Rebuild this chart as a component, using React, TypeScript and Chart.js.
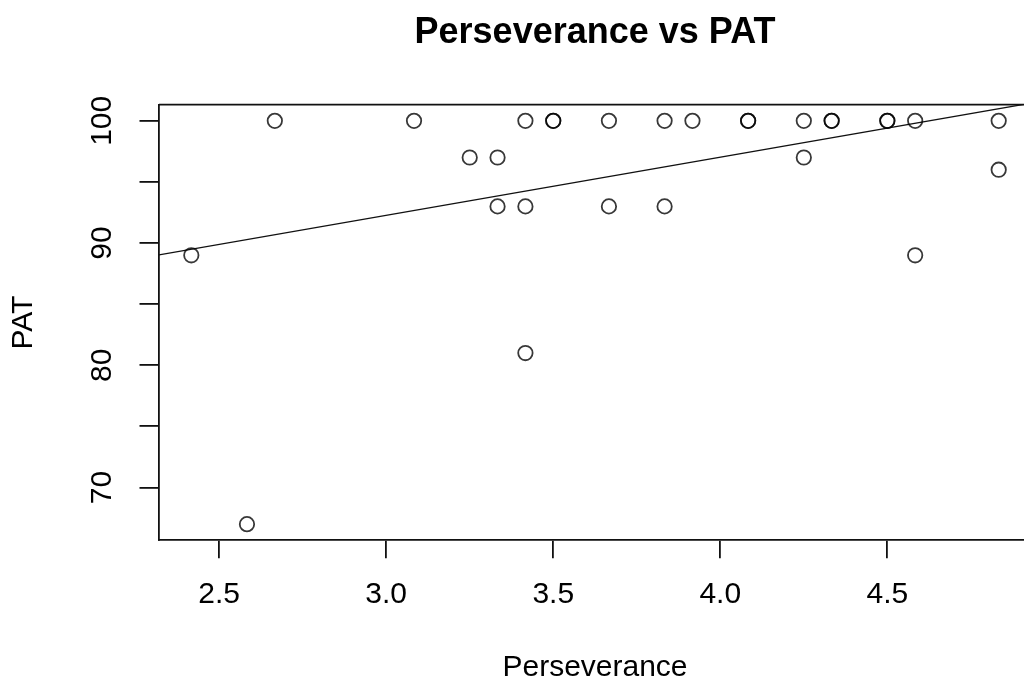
import React, { useEffect, useRef } from 'react';
import { Chart, registerables } from 'chart.js';

Chart.register(...registerables);

// Data
const perseverance = [
  2.4167, 2.5833, 2.6667, 3.0833, 3.25, 3.3333, 3.3333, 3.4167, 3.4167, 3.4167,
  3.5, 3.5, 3.6667, 3.6667, 3.8333, 3.8333, 3.9167, 4.0833, 4.0833, 4.25,
  4.25, 4.3333, 4.3333, 4.5, 4.5, 4.5833, 4.5833, 4.8333, 4.8333,
];
const pat = [
  89, 67, 100, 100, 97, 97, 93, 100, 93, 81,
  100, 100, 100, 93, 100, 93, 100, 100, 100, 100,
  97, 100, 100, 100, 100, 100, 89, 100, 96,
];
// fitted line end points
const fitX = [2.32, 4.93];
const fitY = [89.03, 101.45];

const xTickValues = [2.5, 3.0, 3.5, 4.0, 4.5];
const yLabelValues = [70, 80, 90, 100];

const chartTitle = 'Perseverance vs PAT';
const xTitle = 'Perseverance';
const yTitle = 'PAT';

const FONT = "'Liberation Sans', Arial, sans-serif";
const INK = '#111';

const framePlugin = {
  id: 'frame',
  afterDraw(chart: any) {
    const { ctx, chartArea } = chart;
    ctx.save();
    ctx.strokeStyle = INK;
    ctx.lineWidth = 1.8;
    ctx.beginPath();
    ctx.moveTo(chartArea.left, chartArea.top);
    ctx.lineTo(chartArea.right, chartArea.top);
    ctx.stroke();
    ctx.fillStyle = '#000';
    ctx.font = `bold 36px ${FONT}`;
    ctx.textAlign = 'center';
    ctx.textBaseline = 'middle';
    ctx.fillText(chartTitle, (chartArea.left + chartArea.right) / 2, 33);
    ctx.restore();
  },
};

export default function App() {
  const ref = useRef<HTMLCanvasElement | null>(null);

  useEffect(() => {
    document.body.style.margin = '0';
    const canvas = ref.current;
    if (!canvas) return;
    const points = perseverance.map((x, i) => ({ x, y: pat[i] }));
    const line = fitX.map((x, i) => ({ x, y: fitY[i] }));

    const chart = new Chart(canvas, {
      type: 'scatter',
      data: {
        datasets: [
          {
            type: 'scatter',
            data: points,
            pointRadius: 7.2,
            pointHoverRadius: 7.2,
            borderWidth: 1.8,
            borderColor: 'rgba(0,0,0,0.78)',
            backgroundColor: 'rgba(0,0,0,0)',
          },
          {
            type: 'line',
            data: line,
            borderColor: INK,
            borderWidth: 1.3,
            pointRadius: 0,
            fill: false,
          },
        ],
      },
      options: {
        responsive: false,
        animation: false,
        devicePixelRatio: 1,
        layout: { padding: { top: 104.7, right: 7, left: 0, bottom: 0 } },
        plugins: {
          legend: { display: false },
          tooltip: { enabled: false },
          title: { display: false },
        },
        scales: {
          x: {
            type: 'linear',
            min: 2.32,
            max: 4.93,
            afterFit(scale: any) {
              scale.height = 686 - 540.3;
            },
            afterBuildTicks(scale: any) {
              scale.ticks = xTickValues.map((v) => ({ value: v }));
            },
            ticks: {
              font: { family: FONT, size: 30 },
              color: '#000',
              padding: 18,
              callback: (v: any) => Number(v).toFixed(1),
            },
            grid: {
              drawOnChartArea: false,
              drawTicks: true,
              tickLength: 18,
              color: INK,
              lineWidth: 1.8,
            },
            border: { display: true, color: INK, width: 1.8 },
            title: {
              display: true,
              text: xTitle,
              font: { family: FONT, size: 30 },
              color: '#000',
              padding: { top: 0, bottom: 0 },
            },
          },
          y: {
            type: 'linear',
            min: 65.68,
            max: 101.32,
            afterFit(scale: any) {
              scale.width = 159;
            },
            afterBuildTicks(scale: any) {
              const t: any[] = [];
              for (let v = 70; v <= 100; v += 5) t.push({ value: v });
              scale.ticks = t;
            },
            ticks: {
              font: { family: FONT, size: 30 },
              color: '#000',
              minRotation: 90,
              maxRotation: 90,
              crossAlign: 'center',
              padding: 11.5,
              callback: (v: any) => (yLabelValues.includes(Number(v)) ? String(v) : ''),
            },
            grid: {
              drawOnChartArea: false,
              drawTicks: true,
              tickLength: 19.5,
              color: INK,
              lineWidth: 1.8,
            },
            border: { display: true, color: INK, width: 1.8 },
            title: {
              display: true,
              text: yTitle,
              font: { family: FONT, size: 30 },
              color: '#000',
              padding: { top: 6, bottom: 0 },
            },
          },
        },
      } as any,
      plugins: [framePlugin],
    });
    return () => chart.destroy();
  }, []);

  return (
    <div style={{ width: 1024, height: 686, overflow: 'hidden', background: '#fff' }}>
      <canvas ref={ref} width={1040} height={686} style={{ display: 'block' }} />
    </div>
  );
}
